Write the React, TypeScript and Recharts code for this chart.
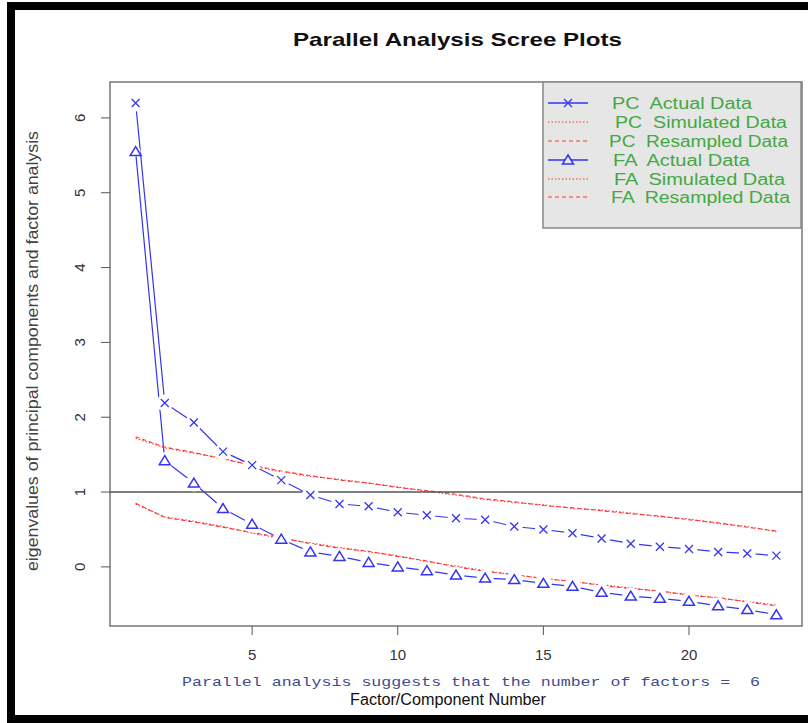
import React from "react";
import { ComposedChart, Line, XAxis, YAxis, ReferenceLine, ReferenceArea } from "recharts";

const factorNumbers = [1, 2, 3, 4, 5, 6, 7, 8, 9, 10, 11, 12, 13, 14, 15, 16, 17, 18, 19, 20, 21, 22, 23];
const pcActual = [6.2, 2.19, 1.93, 1.54, 1.36, 1.16, 0.96, 0.84, 0.81, 0.73, 0.69, 0.65, 0.63, 0.54, 0.5, 0.45, 0.38, 0.31, 0.27, 0.24, 0.2, 0.18, 0.15];
const pcSimulated = [1.72, 1.59, 1.52, 1.45, 1.35, 1.27, 1.21, 1.17, 1.12, 1.07, 1.01, 0.96, 0.9, 0.86, 0.83, 0.78, 0.76, 0.72, 0.67, 0.64, 0.58, 0.54, 0.47];
const pcResampled = [1.74, 1.6, 1.53, 1.44, 1.36, 1.28, 1.22, 1.16, 1.12, 1.06, 1.02, 0.97, 0.91, 0.87, 0.82, 0.79, 0.75, 0.71, 0.68, 0.63, 0.59, 0.53, 0.48];
const faActual = [5.55, 1.42, 1.12, 0.78, 0.57, 0.37, 0.2, 0.14, 0.06, 0.0, -0.05, -0.11, -0.15, -0.17, -0.22, -0.26, -0.34, -0.39, -0.42, -0.46, -0.52, -0.57, -0.64];
const faSimulated = [0.84, 0.67, 0.61, 0.54, 0.45, 0.38, 0.32, 0.26, 0.2, 0.15, 0.07, 0.01, -0.05, -0.11, -0.15, -0.2, -0.24, -0.28, -0.33, -0.37, -0.42, -0.46, -0.51];
const faResampled = [0.85, 0.66, 0.6, 0.53, 0.46, 0.39, 0.31, 0.25, 0.21, 0.14, 0.08, 0.0, -0.06, -0.1, -0.16, -0.19, -0.25, -0.29, -0.32, -0.38, -0.41, -0.47, -0.52];

const xTicks = [5, 10, 15, 20];
const yTicks = [0, 1, 2, 3, 4, 5, 6];
const xDomain = [0.12, 23.88];
const yDomain = [-0.79, 6.48];

const titleText = "Parallel Analysis Scree Plots";
const yLabelText = "eigenvalues of principal components and factor analysis";
const xLabelText = "Factor/Component Number";
const noteText = "Parallel analysis suggests that the number of factors =  6";
const legendLabels = [
  "PC  Actual Data",
  "PC  Simulated Data",
  "PC  Resampled Data",
  "FA  Actual Data",
  "FA  Simulated Data",
  "FA  Resampled Data",
];

const data = factorNumbers.map((n, i) => ({
  n,
  pcActual: pcActual[i],
  pcSimulated: pcSimulated[i],
  pcResampled: pcResampled[i],
  faActual: faActual[i],
  faSimulated: faSimulated[i],
  faResampled: faResampled[i],
}));

const BLUE = "#3535ee";
const RED = "#ff3535";
const GREEN = "#43a843";
const SANS = "'Liberation Sans', Arial, sans-serif";
const MONO = "'Liberation Mono', 'Courier New', monospace";

function CrossDot(props: any) {
  const { cx, cy, index } = props;
  if (cx == null || cy == null) return <g key={"c" + index} />;
  return (
    <g key={"c" + index}>
      <circle cx={cx} cy={cy} r={8.5} fill="#fff" />
      <path
        d={`M${cx - 4},${cy - 4}L${cx + 4},${cy + 4}M${cx + 4},${cy - 4}L${cx - 4},${cy + 4}`}
        stroke={BLUE}
        strokeWidth={1.3}
        fill="none"
      />
    </g>
  );
}

function TriangleDot(props: any) {
  const { cx, cy, index } = props;
  if (cx == null || cy == null) return <g key={"t" + index} />;
  return (
    <g key={"t" + index}>
      <circle cx={cx} cy={cy} r={index === 0 ? 5 : 8.5} fill="#fff" />
      <path
        d={`M${cx},${cy - 5}L${cx + 5.5},${cy + 4}L${cx - 5.5},${cy + 4}Z`}
        stroke={BLUE}
        strokeWidth={1.5}
        fill="none"
      />
    </g>
  );
}

function YTick(props: any) {
  const { x, y, payload } = props;
  return (
    <text
      transform={`translate(${x - 14.5},${y}) rotate(-90)`}
      textAnchor="middle"
      fontSize={15}
      fontFamily={SANS}
      fill="#333"
    >
      {payload.value}
    </text>
  );
}

function XTick(props: any) {
  const { x, y, payload } = props;
  return (
    <text x={x} y={y} dy="0.71em" textAnchor="middle" fontSize={15} fontFamily={SANS} fill="#333">
      {payload.value}
    </text>
  );
}

function LegendSymbol({ i, y }: { i: number; y: number }) {
  const x0 = 548;
  const x1 = 588;
  const xm = (x0 + x1) / 2;
  if (i === 0) {
    return (
      <g>
        <line x1={x0} y1={y} x2={x1} y2={y} stroke={BLUE} strokeWidth={1.3} />
        <path d={`M${xm - 4},${y - 4}L${xm + 4},${y + 4}M${xm + 4},${y - 4}L${xm - 4},${y + 4}`} stroke={BLUE} strokeWidth={1.3} />
      </g>
    );
  }
  if (i === 3) {
    return (
      <g>
        <line x1={x0} y1={y} x2={x1} y2={y} stroke={BLUE} strokeWidth={1.3} />
        <path d={`M${xm},${y - 5}L${xm + 5.5},${y + 4}L${xm - 5.5},${y + 4}Z`} stroke={BLUE} strokeWidth={1.5} fill="#e6e6e6" />
      </g>
    );
  }
  const dotted = i === 1 || i === 4;
  return (
    <line x1={x0} y1={y} x2={x1} y2={y} stroke={RED} strokeWidth={1.2} strokeDasharray={dotted ? "1.5 2" : "4 3"} />
  );
}

export default function App() {
  const rowY = [103, 122, 141, 160, 179, 197];
  const textStart = [612, 615, 609, 613, 614, 611];
  const textEnd = [752, 787, 788, 750, 785, 790];
  return (
    <div style={{ position: "absolute", left: 0, top: 0, width: 808, height: 723, background: "#fff", overflow: "hidden" }}>
      <ComposedChart
        width={808}
        height={723}
        data={data}
        margin={{ top: 82, right: 6, bottom: 67, left: 50 }}
      >
        <XAxis
          dataKey="n"
          type="number"
          domain={xDomain}
          ticks={xTicks}
          allowDataOverflow
          axisLine={false}
          tickSize={9}
          tickMargin={14}
          tickLine={{ stroke: "#555" }}
          tick={<XTick />}
          height={30}
        />
        <YAxis
          type="number"
          domain={yDomain}
          ticks={yTicks}
          allowDataOverflow
          axisLine={false}
          tickSize={9}
          tickMargin={2}
          tickLine={{ stroke: "#555" }}
          tick={<YTick />}
          width={60}
        />
        <Line
          dataKey="pcActual"
          stroke={BLUE}
          strokeWidth={1.2}
          dot={(p: any) => <CrossDot {...p} />}
          activeDot={false}
          isAnimationActive={false}
          legendType="none"
        />
        <Line
          dataKey="faActual"
          stroke={BLUE}
          strokeWidth={1.2}
          dot={(p: any) => <TriangleDot {...p} />}
          activeDot={false}
          isAnimationActive={false}
          legendType="none"
        />
        <Line dataKey="pcSimulated" stroke={RED} strokeWidth={1.1} strokeDasharray="1.5 2" dot={false} activeDot={false} isAnimationActive={false} />
        <Line dataKey="pcResampled" stroke={RED} strokeWidth={1.1} strokeDasharray="4 3" dot={false} activeDot={false} isAnimationActive={false} />
        <Line dataKey="faSimulated" stroke={RED} strokeWidth={1.1} strokeDasharray="1.5 2" dot={false} activeDot={false} isAnimationActive={false} />
        <Line dataKey="faResampled" stroke={RED} strokeWidth={1.1} strokeDasharray="4 3" dot={false} activeDot={false} isAnimationActive={false} />
        <ReferenceLine y={1} stroke="#555" strokeWidth={1.5} />
        <ReferenceArea
          x1={xDomain[0]}
          x2={xDomain[1]}
          y1={yDomain[0]}
          y2={yDomain[1]}
          fill="none"
          fillOpacity={0}
          stroke="#777"
          strokeWidth={1.5}
          ifOverflow="visible"
        />
      </ComposedChart>
      <svg
        width={808}
        height={723}
        style={{ position: "absolute", left: 0, top: 0, pointerEvents: "none" }}
      >
        <rect x={7} y={2} width={801} height={8} fill="#000" />
        <rect x={7} y={2} width={8} height={721} fill="#000" />
        <rect x={7} y={715} width={801} height={8} fill="#000" />
        <text
          x={457.5}
          y={46}
          textAnchor="middle"
          fontSize={19}
          fontWeight="bold"
          fontFamily={SANS}
          fill="#111"
          textLength={329}
          lengthAdjust="spacingAndGlyphs"
        >
          {titleText}
        </text>
        <text
          transform="translate(38,351) rotate(-90)"
          textAnchor="middle"
          fontSize={16}
          fontFamily={SANS}
          fill="#444"
          textLength={440}
          lengthAdjust="spacingAndGlyphs"
        >
          {yLabelText}
        </text>
        <text
          x={182}
          y={686}
          fontSize={13}
          fontFamily={MONO}
          fill="#3f4c8c"
          textLength={578}
          lengthAdjust="spacingAndGlyphs"
          style={{ whiteSpace: "pre" }}
        >
          {noteText}
        </text>
        <text
          x={448}
          y={705}
          textAnchor="middle"
          fontSize={16}
          fontFamily={SANS}
          fill="#111"
          textLength={196}
          lengthAdjust="spacingAndGlyphs"
        >
          {xLabelText}
        </text>
        <rect x={543} y={82} width={258} height={146} fill="#e6e6e6" stroke="#888" strokeWidth={1.5} />
        {legendLabels.map((label, i) => (
          <g key={label}>
            <LegendSymbol i={i} y={rowY[i]} />
            <text
              x={textStart[i]}
              y={rowY[i] + 5.8}
              fontSize={16}
              fontFamily={SANS}
              fill={GREEN}
              textLength={textEnd[i] - textStart[i]}
              lengthAdjust="spacingAndGlyphs"
              style={{ whiteSpace: "pre" }}
            >
              {label}
            </text>
          </g>
        ))}
      </svg>
    </div>
  );
}
